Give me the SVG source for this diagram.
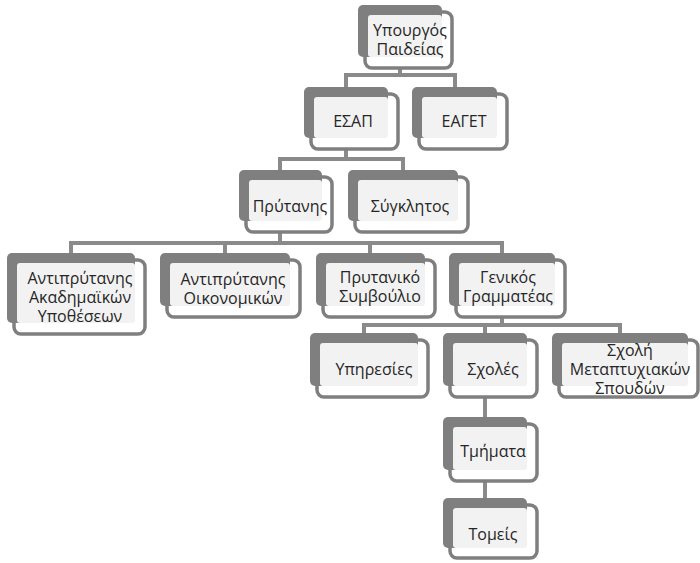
<svg xmlns="http://www.w3.org/2000/svg" width="700" height="563" viewBox="0 0 700 563">
<style>
.f{fill:#ffffff;stroke:#7f7f7f;stroke-width:3.5}
.d{fill:#7f7f7f}
.l{fill:#f2f2f2}
.t{font-family:"Open Sans","Noto Sans","DejaVu Sans",sans-serif;font-size:16px;fill:#262626;text-anchor:middle}
.c{fill:none;stroke:#8a8a8a;stroke-width:4}
</style>
<defs>
<clipPath id="clipSMS"><rect x="552" y="333" width="148" height="62"/></clipPath>
</defs>
<rect width="700" height="563" fill="#ffffff"/>
<g id="connectors">
<path class="c" d="M400 68V75M346 87V75H455V87"/>
<path class="c" d="M346 150V159M280 170V159H403V170"/>
<path class="c" d="M280 232V243M71 253V243H502V253M225 243V253M370 243V253"/>
<path class="c" d="M502 316V325M364 333V325H620V333M485 325V333"/>
<path class="c" d="M485 396V417"/>
<path class="c" d="M485 480V498"/>
</g>
<g id="n-ypourgos">
<rect class="f" x="365" y="12" width="87" height="56" rx="7"/>
<rect class="d" x="358" y="5" width="84" height="52" rx="5"/>
<rect class="l" x="368" y="15" width="74" height="42" rx="3"/>
<text class="t"><tspan x="410" y="36">Υπουργός</tspan><tspan x="410" y="55">Παιδείας</tspan></text>
</g>
<g id="n-esap">
<rect class="f" x="311" y="94" width="87" height="55" rx="7"/>
<rect class="d" x="304" y="87" width="84" height="51" rx="5"/>
<rect class="l" x="314" y="97" width="74" height="41" rx="3"/>
<text class="t" x="353" y="127">ΕΣΑΠ</text>
</g>
<g id="n-eaget">
<rect class="f" x="419" y="94" width="88" height="55" rx="7"/>
<rect class="d" x="412" y="87" width="85" height="51" rx="5"/>
<rect class="l" x="422" y="97" width="75" height="41" rx="3"/>
<text class="t" x="464" y="127">ΕΑΓΕΤ</text>
</g>
<g id="n-prytanis">
<rect class="f" x="246" y="177" width="86" height="55" rx="7"/>
<rect class="d" x="239" y="170" width="83" height="51" rx="5"/>
<rect class="l" x="249" y="180" width="73" height="41" rx="3"/>
<text class="t" x="290" y="212">Πρύτανης</text>
</g>
<g id="n-synklitos">
<rect class="f" x="355" y="177" width="113" height="55" rx="7"/>
<rect class="d" x="348" y="170" width="110" height="51" rx="5"/>
<rect class="l" x="358" y="180" width="100" height="41" rx="3"/>
<text class="t" x="410" y="212">Σύγκλητος</text>
</g>
<g id="n-antakad">
<rect class="f" x="14" y="260" width="131" height="74" rx="7"/>
<rect class="d" x="7" y="253" width="128" height="70" rx="5"/>
<rect class="l" x="17" y="263" width="118" height="60" rx="3"/>
<text class="t"><tspan x="80" y="284">Αντιπρύτανης</tspan><tspan x="80" y="303">Ακαδημαϊκών</tspan><tspan x="80" y="322">Υποθέσεων</tspan></text>
</g>
<g id="n-antoik">
<rect class="f" x="167" y="260" width="133" height="57" rx="7"/>
<rect class="d" x="160" y="253" width="130" height="53" rx="5"/>
<rect class="l" x="170" y="263" width="120" height="43" rx="3"/>
<text class="t"><tspan x="233" y="285">Αντιπρύτανης</tspan><tspan x="233" y="304">Οικονομικών</tspan></text>
</g>
<g id="n-prytaniko">
<rect class="f" x="323" y="260" width="112" height="57" rx="7"/>
<rect class="d" x="316" y="253" width="109" height="53" rx="5"/>
<rect class="l" x="326" y="263" width="99" height="43" rx="3"/>
<text class="t"><tspan x="380" y="283">Πρυτανικό</tspan><tspan x="380" y="302">Συμβούλιο</tspan></text>
</g>
<g id="n-genikos">
<rect class="f" x="456" y="260" width="109" height="57" rx="7"/>
<rect class="d" x="449" y="253" width="106" height="53" rx="5"/>
<rect class="l" x="459" y="263" width="96" height="43" rx="3"/>
<text class="t"><tspan x="508" y="283">Γενικός</tspan><tspan x="508" y="302">Γραμματέας</tspan></text>
</g>
<g id="n-ypiresies">
<rect class="f" x="317" y="340" width="111" height="57" rx="7"/>
<rect class="d" x="310" y="333" width="108" height="53" rx="5"/>
<rect class="l" x="320" y="343" width="98" height="43" rx="3"/>
<text class="t" x="374" y="375">Υπηρεσίες</text>
</g>
<g id="n-scholes">
<rect class="f" x="450" y="340" width="87" height="57" rx="7"/>
<rect class="d" x="443" y="333" width="84" height="53" rx="5"/>
<rect class="l" x="453" y="343" width="74" height="43" rx="3"/>
<text class="t" x="493" y="375">Σχολές</text>
</g>
<g id="n-sms">
<rect class="f" x="559" y="340" width="139" height="57" rx="7"/>
<rect class="d" x="552" y="333" width="136" height="53" rx="5"/>
<rect class="l" x="562" y="343" width="126" height="43" rx="3"/>
<text class="t" clip-path="url(#clipSMS)"><tspan x="630" y="356">Σχολή</tspan><tspan x="630" y="375">Μεταπτυχιακών</tspan><tspan x="630" y="394">Σπουδών</tspan></text>
</g>
<g id="n-tmimata">
<rect class="f" x="450" y="424" width="87" height="57" rx="7"/>
<rect class="d" x="443" y="417" width="84" height="53" rx="5"/>
<rect class="l" x="453" y="427" width="74" height="43" rx="3"/>
<text class="t" x="493" y="457">Τμήματα</text>
</g>
<g id="n-tomeis">
<rect class="f" x="450" y="505" width="87" height="53" rx="7"/>
<rect class="d" x="443" y="498" width="84" height="50" rx="5"/>
<rect class="l" x="453" y="508" width="74" height="40" rx="3"/>
<text class="t" x="493" y="540">Τομείς</text>
</g>
</svg>
